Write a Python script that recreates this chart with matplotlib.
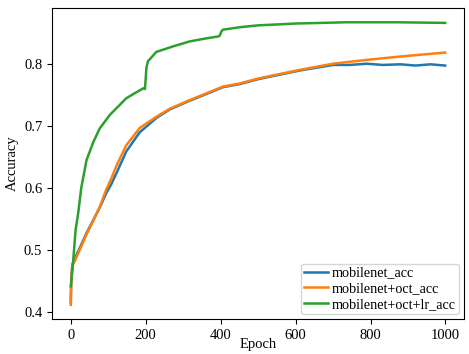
import matplotlib
matplotlib.use("Agg")
from matplotlib import pyplot as plt

plt.rcParams['font.family'] = ['Liberation Serif', 'DejaVu Serif']

# mobilenet_acc
blue_epoch = [0, 1, 4, 11, 24, 42, 60, 77, 95, 108, 122, 148, 184, 228, 264, 317,
              362, 406, 451, 500, 611, 700, 744, 790, 832, 880, 920, 960, 999]
blue_acc = [0.415, 0.445, 0.476, 0.486, 0.503, 0.527, 0.548, 0.568, 0.592, 0.606,
            0.624, 0.659, 0.690, 0.713, 0.727, 0.741, 0.752, 0.763, 0.768, 0.776,
            0.790, 0.799, 0.799, 0.801, 0.799, 0.800, 0.798, 0.800, 0.798]

# mobilenet+oct_acc
orange_epoch = [0, 1, 4, 11, 24, 42, 60, 77, 95, 108, 122, 148, 184, 228, 264, 317,
                362, 406, 451, 500, 611, 700, 788, 877, 999]
orange_acc = [0.411, 0.441, 0.474, 0.482, 0.500, 0.525, 0.547, 0.569, 0.598, 0.615,
              0.636, 0.669, 0.697, 0.715, 0.728, 0.742, 0.753, 0.764, 0.769, 0.777,
              0.791, 0.801, 0.807, 0.8125, 0.819]

# mobilenet+oct+lr_acc
green_epoch = [0, 6, 13, 20, 28, 42, 60, 77, 104, 148, 170, 193, 198, 202, 206, 215,
               228, 273, 317, 362, 393, 397, 402, 406, 451, 500, 603, 736, 869, 999]
green_acc = [0.441, 0.479, 0.533, 0.560, 0.600, 0.645, 0.674, 0.696, 0.718, 0.745,
             0.753, 0.761, 0.760, 0.795, 0.805, 0.811, 0.820, 0.829, 0.837, 0.842,
             0.845, 0.846, 0.853, 0.856, 0.860, 0.863, 0.866, 0.868, 0.868, 0.867]

fig = plt.figure(figsize=(4.69, 3.54), dpi=100)
ax = fig.add_axes([0.111, 0.099, 0.878, 0.878])

ax.plot(blue_epoch, blue_acc, color='#1f77b4', lw=1.8, label='mobilenet_acc')
ax.plot(orange_epoch, orange_acc, color='#ff7f0e', lw=1.8, label='mobilenet+oct_acc')
ax.plot(green_epoch, green_acc, color='#2ca02c', lw=1.8, label='mobilenet+oct+lr_acc')

ax.set_xticks([0, 200, 400, 600, 800, 1000])
ax.set_yticks([0.4, 0.5, 0.6, 0.7, 0.8])
ax.tick_params(labelsize=10.5)
ax.set_xlabel('Epoch', fontsize=10.5, labelpad=-3)
ax.set_ylabel('Accuracy', fontsize=10.5, labelpad=4)
ax.legend(loc='lower right', fontsize=10.2, handlelength=1.7, handletextpad=0.28,
          borderpad=0.2, labelspacing=0.2, borderaxespad=0.35)

fig.savefig('out.png', dpi=100)
